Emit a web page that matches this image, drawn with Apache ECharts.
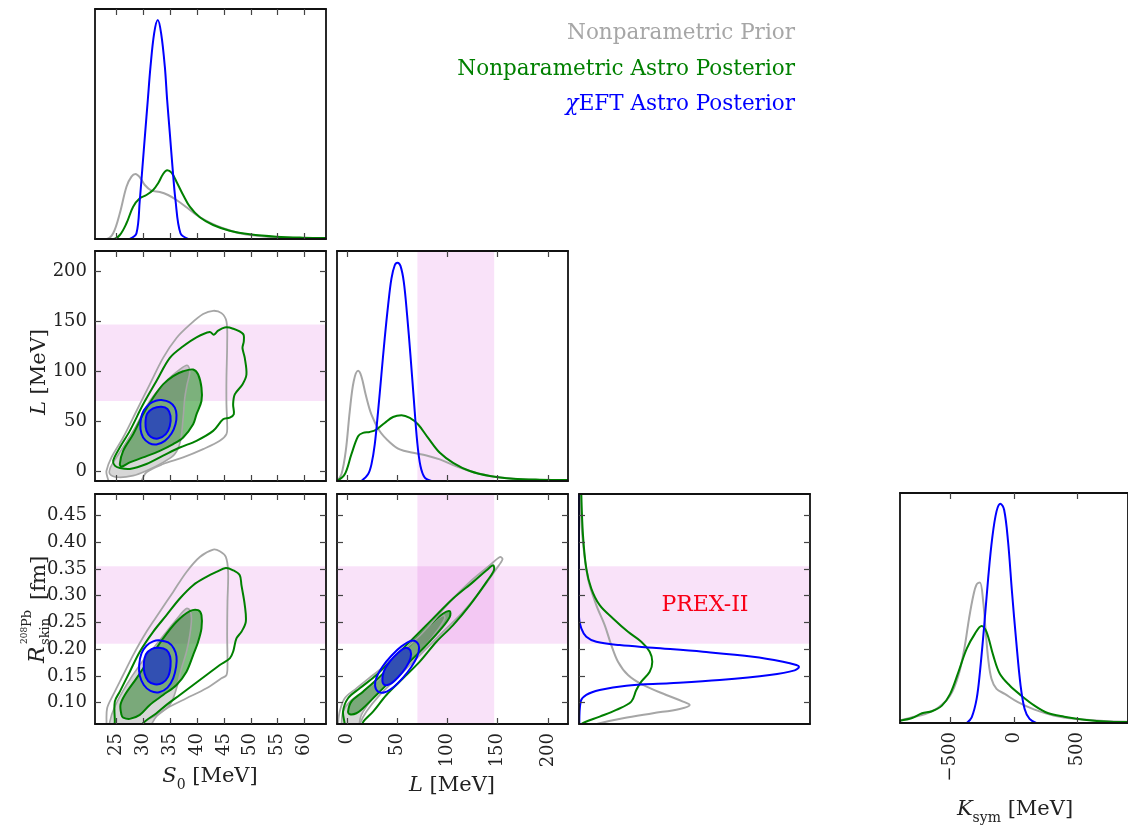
<!DOCTYPE html>
<html><head><meta charset="utf-8">
<script src="https://cdn.jsdelivr.net/npm/echarts@6/dist/echarts.min.js"></script>
<style>html,body{margin:0;padding:0;background:#fff}#c{width:1128px;height:825px}</style>
</head><body><div id="c"></div>
<script>
// ---------- axis ranges & ticks ----------
const S0_RANGE = [21, 64];
const L_RANGE = [-10, 220];
const R_RANGE = [0.06, 0.49];
const K_RANGE = [-900, 900];
const S0_TICKS = [25, 30, 35, 40, 45, 50, 55, 60];
const L_TICKS = [0, 50, 100, 150, 200];
const R_TICKS = [0.10, 0.15, 0.20, 0.25, 0.30, 0.35, 0.40, 0.45];
const K_TICKS = [-500, 0, 500];
const DENS_A = [0, 230], DENS_C = [0, 231], DENS_F = [0, 231], DENS_G = [0, 229];
// PREX-II bands
const PREX_L = [70, 146.5];
const PREX_R = [0.21, 0.355];

// ---------- legend ----------
const LEGEND = ['Nonparametric Prior', 'Nonparametric Astro Posterior', '{i|χ}EFT Astro Posterior'];

// ---------- 1D marginals ----------
const S0_PRIOR = [[21,0],[23.14,0],[24.38,5.7],[25.62,25.7],[26.86,52.3],[27.79,62.3],[28.54,65],[29.34,61.7],[30.27,54],[31.51,48.3],[33.06,47],[34.6,44],[36.17,39],[38.03,31.7],[39.89,24],[42.37,16.3],[44.85,10.7],[47.95,5.7],[51.05,3.3],[54.78,1.7],[59.74,1],[64,0.7]];
const S0_ASTRO = [[21,0],[24.38,0],[25.62,4],[26.86,15.7],[28.1,32.3],[29.34,40.7],[30.58,44],[31.82,49],[32.75,55.7],[33.68,65],[34.43,68.7],[35.24,66.3],[36.17,57.3],[37.41,44],[38.65,32.3],[40.51,21.7],[42.99,14],[46.09,8.3],[49.81,4.7],[54.78,2.3],[59.74,1.3],[64,1]];
const S0_CHIEFT = [[27.48,0],[28.72,5.7],[29.34,39],[29.84,72.3],[30.33,105.7],[30.83,139],[31.33,172.3],[32.01,205.7],[32.69,219],[33.31,205.7],[34.0,172.3],[34.43,139],[34.93,105.7],[35.42,72.3],[35.98,39],[36.91,5.7],[38.34,0]];

const L_PRIOR = [[-10,0],[-5.6,6.7],[-1.3,30],[2.7,70],[6.6,100],[11,110.7],[14.3,105],[18.6,86.7],[24.3,66.7],[32.6,50],[42.5,39],[52.5,31.7],[65.8,28.3],[79.1,25.7],[92.4,21.7],[105.6,16],[122.3,10],[142.2,5],[165.4,2.3],[192,1],[220,0.7]];
const L_ASTRO = [[-10,0],[-2.3,6.7],[4.3,26.7],[11,45],[15.9,48.3],[22.6,49.3],[29.2,51.7],[37.5,58.3],[45.8,64.3],[54.2,66],[62.5,63.3],[70.8,56.7],[80.7,43.3],[92.4,28.3],[105.6,18.3],[122.3,10],[142.2,5],[165.4,2.3],[192,1.3],[220,1]];
const L_CHIEFT = [[14.3,0],[20.9,6.7],[24.3,16.7],[27.6,36.7],[30.9,70],[34.2,106.7],[37.5,143.3],[40.9,176.7],[44.2,203.3],[47.5,216.7],[50.2,219.3],[53.2,216],[56.5,200],[59.8,166.7],[63.1,126.7],[66.4,83.3],[69.8,40],[73.1,15],[77.4,3.3],[84.1,0]];

// [density, R]
const R_PRIOR = [[1.3,0.49],[3.3,0.4127],[9,0.3319],[17.3,0.2821],[25.7,0.2449],[32.3,0.2076],[39,0.1765],[49,0.1516],[64,0.133],[87.3,0.1143],[104,0.1019],[110.7,0.0957],[100.7,0.0882],[74,0.0801],[44,0.0708],[20.7,0.0615],[10,0.055]];
const R_ASTRO = [[2.3,0.49],[4,0.4127],[7.3,0.3505],[12.3,0.3132],[20.7,0.2821],[34,0.2573],[49,0.2324],[62.3,0.2138],[70.7,0.1951],[73.3,0.1765],[70.7,0.1578],[62.3,0.1392],[57.3,0.1236],[52.3,0.1019],[37.3,0.0863],[20.7,0.0739],[5.7,0.0633],[2.3,0.06]];
const R_CHIEFT = [[0,0.49],[0,0.26],[2.3,0.2386],[7.3,0.2231],[17.3,0.2138],[40.7,0.2076],[74,0.2026],[124,0.1951],[174,0.1858],[204,0.1765],[217.3,0.1703],[220,0.1671],[215.7,0.1603],[190.7,0.1516],[140.7,0.1423],[90.7,0.1361],[47.3,0.1317],[20.7,0.1236],[7.3,0.1143],[1.7,0.1019],[0.3,0.0615]];

const K_PRIOR = [[-903,2.3],[-804,5.7],[-700,9],[-595,15.7],[-504,27.3],[-439,47.3],[-392,74],[-355,104],[-321,127],[-295,138],[-269,140],[-243,120.7],[-225,94],[-204,64],[-178,44],[-138,34],[-73,29],[31,20.7],[162,13.3],[319,7.3],[501,4],[710,2],[900,1.3]];
const K_ASTRO = [[-903,2.3],[-804,5],[-726,9.7],[-648,11.7],[-569,17.3],[-504,29],[-439,50.7],[-373,74],[-308,89],[-256,96.7],[-217,90.7],[-164,67.3],[-112,49],[-34,37.3],[57,27.3],[162,17.3],[266,10],[397,6.3],[554,3.3],[762,1.3],[900,1]];
const K_CHIEFT = [[-373,0],[-334,5.7],[-295,24],[-269,50.7],[-235,97.3],[-204,144],[-172,184],[-138,210.7],[-107,218.3],[-78,212.3],[-47,180.7],[-16,130.7],[18,80.7],[52,37.3],[84,14],[123,4],[175,0]];

// ---------- 2D contours: S0 vs L ----------
const B_PRIOR_OUTER = [[23.14,0.3],[24.07,13.6],[26.24,33.5],[28.72,60],[31.2,86.6],[33.68,113.1],[36.17,133],[38.65,146.3],[41.13,156.9],[42.99,160.2],[44.54,157.9],[45.47,149.6],[45.6,126.4],[45.47,93.2],[45.47,66.7],[45.6,46.8],[45.47,36.8],[44.23,30.2],[41.13,21.9],[37.41,13.6],[33.68,7],[30.58,-1.3],[29.65,-10.3],[29.4,-16],[24.2,-16],[23.3,-6]];
const B_ASTRO_OUTER = [[24.69,5.3],[24.38,10.3],[25.62,23.5],[27.48,40.1],[29.96,66.7],[32.44,89.9],[34.93,113.1],[37.41,124.7],[39.89,133.7],[42.37,139],[43.11,136.3],[43.92,140.3],[45.16,143.6],[46.71,142.3],[48.57,137],[48.7,129.7],[48.45,123.1],[48.88,113.1],[49.19,96.5],[48.45,86.6],[47.02,76.6],[46.71,66.7],[46.84,56.7],[46.09,53.4],[44.85,51.7],[42.99,40.1],[39.89,30.2],[36.79,23.5],[33.68,15.3],[30.58,7],[27.48,2],[25.62,3]];
const B_PRIOR_INNER = [[23.76,-3],[23.88,3.6],[25,13.6],[28.1,40.1],[31.2,70],[34.31,89.9],[36.79,101.5],[38.15,105.8],[38.65,99.7],[38.15,86.6],[37.72,73.3],[37.41,53.4],[36.91,30.2],[35.86,16.9],[33.68,8.6],[30.58,0.3],[28.1,-4.6],[25.31,-6.3]];
const B_ASTRO_INNER = [[25.62,7],[26.24,20.2],[28.1,36.8],[29.96,56.7],[31.82,73.3],[33.68,86.6],[35.55,94.9],[37.41,99.7],[39.27,101.5],[40.2,96.5],[40.82,83.3],[40.82,70],[39.89,56.7],[39.27,46.8],[37.41,33.5],[35.55,26.9],[33.06,20.2],[29.96,13.6],[27.48,8.6],[25.93,4.3]];
const B_CHIEFT_OUTER = [[33.37,70.98],[34.93,68.66],[35.86,63.35],[36.17,56.05],[35.98,46.77],[35.24,37.48],[34.0,30.18],[32.44,26.53],[31.08,27.86],[29.96,33.5],[29.47,41.79],[29.53,51.74],[30.09,60.7],[31.2,67.33],[32.32,70.32]];
const B_CHIEFT_INNER = [[33.37,64.34],[34.49,62.02],[35.05,55.06],[34.93,45.11],[34.18,36.82],[32.75,32.5],[31.39,34.16],[30.58,40.13],[30.4,48.42],[30.71,57.38],[31.82,62.69]];

// ---------- 2D contours: S0 vs R ----------
const D_PRIOR_OUTER = [[23.14,0.0459],[23.14,0.0596],[23.26,0.0894],[24.38,0.1143],[26.24,0.1516],[28.1,0.1889],[30.58,0.2324],[33.06,0.2697],[35.55,0.307],[38.03,0.3443],[40.51,0.3723],[43.0,0.386],[44.23,0.3829],[45.35,0.3723],[45.78,0.3443],[45.66,0.2884],[45.6,0.2262],[45.66,0.1703],[45.47,0.1516],[44.54,0.1454],[41.75,0.1267],[38.03,0.1081],[34.93,0.0926],[32.44,0.077],[29.96,0.0615],[29.65,0.0459]];
const D_ASTRO_OUTER = [[24.69,0.0459],[24.69,0.0646],[24.69,0.1019],[25.62,0.1205],[27.48,0.1578],[29.34,0.1951],[31.82,0.2324],[34.31,0.2635],[36.79,0.2946],[39.27,0.3195],[41.75,0.335],[43.61,0.3443],[45.35,0.3518],[46.71,0.3474],[47.95,0.3381],[48.26,0.3195],[48.88,0.2822],[49.07,0.2511],[48.26,0.2324],[47.33,0.22],[46.71,0.1951],[46.09,0.1827],[44.23,0.1703],[41.75,0.1516],[39.27,0.133],[36.79,0.1143],[34.31,0.0957],[32.44,0.0801],[29.96,0.0615],[29.65,0.0459]];
const D_PRIOR_INNER = [[23.76,0.0459],[23.76,0.0646],[24.69,0.0926],[26.86,0.133],[29.34,0.1703],[31.82,0.2013],[34.31,0.2324],[36.79,0.2635],[38.03,0.2759],[38.65,0.2728],[38.96,0.2573],[38.65,0.2262],[38.03,0.1951],[37.1,0.164],[36.17,0.1267],[34.93,0.0957],[32.44,0.0739],[30.27,0.0459]];
const D_ASTRO_INNER = [[25.93,0.077],[25.74,0.0957],[26.55,0.1143],[28.72,0.1454],[31.2,0.1827],[33.68,0.22],[36.17,0.2511],[38.65,0.271],[40.2,0.2728],[40.82,0.2635],[40.82,0.2386],[40.2,0.2138],[39.27,0.1889],[38.03,0.1578],[36.17,0.133],[33.68,0.1143],[31.2,0.0957],[29.34,0.077],[27.48,0.0696],[26.24,0.072]];
const D_CHIEFT_OUTER = [[33.06,0.2163],[34.62,0.2125],[35.67,0.2013],[36.17,0.1858],[36.1,0.1671],[35.55,0.1454],[34.49,0.128],[32.94,0.1193],[31.33,0.1218],[30.09,0.133],[29.34,0.1504],[29.22,0.1703],[29.65,0.192],[30.58,0.2063],[31.82,0.2144]];
const D_CHIEFT_INNER = [[32.94,0.2026],[34.31,0.1982],[34.99,0.1858],[35.05,0.1671],[34.62,0.1485],[33.56,0.1367],[32.13,0.1342],[30.89,0.1404],[30.21,0.1547],[30.09,0.1734],[30.46,0.1901],[31.51,0.2001]];

// ---------- 2D contours: L vs R ----------
const E_PRIOR_OUTER = [[-9,0.0459],[-9,0.0596],[-7.3,0.0832],[-2.3,0.1081],[9.3,0.1267],[25.9,0.1516],[42.5,0.1765],[62.5,0.2076],[82.4,0.2449],[102.3,0.2884],[122.3,0.3257],[142.2,0.3567],[152.2,0.3723],[154.8,0.3679],[148.8,0.3505],[132.2,0.307],[115.6,0.2697],[99,0.2386],[82.4,0.2076],[65.8,0.1765],[49.2,0.1454],[32.6,0.1143],[19.3,0.0832],[12.6,0.0596],[11,0.0459]];
const E_ASTRO_OUTER = [[-2.3,0.0459],[-2.3,0.0596],[-4,0.0832],[1,0.1081],[12.6,0.1267],[29.2,0.1516],[45.8,0.1827],[65.8,0.22],[85.7,0.2573],[105.6,0.2946],[125.6,0.3257],[138.9,0.3474],[145.5,0.3567],[146.2,0.3474],[138.9,0.3257],[122.3,0.2822],[105.6,0.2449],[89,0.2138],[72.4,0.1765],[55.8,0.1454],[39.2,0.1143],[25.9,0.0832],[15.9,0.0633],[14,0.0459]];
const E_PRIOR_INNER = [[-5.6,0.0459],[-5.6,0.0596],[-4,0.0832],[2.7,0.1019],[15.9,0.1205],[32.6,0.1454],[49.2,0.1765],[65.8,0.2138],[82.4,0.2449],[95.7,0.2635],[97.3,0.2573],[89,0.2324],[75.7,0.2013],[59.1,0.1703],[42.5,0.1392],[25.9,0.1081],[14.3,0.077],[9.3,0.0459]];
const E_ASTRO_INNER = [[1,0.0832],[4.3,0.1019],[15.9,0.1205],[32.6,0.1485],[49.2,0.1796],[65.8,0.2138],[82.4,0.2449],[95.7,0.2666],[102.3,0.271],[102.3,0.2604],[94,0.2386],[79.1,0.2076],[62.5,0.1765],[45.8,0.1454],[29.2,0.1143],[15.9,0.0894],[9.3,0.0801],[2.7,0.0783]];
const E_CHIEFT_OUTER = [[64.12,0.2156],[69.77,0.2125],[71.76,0.2026],[69.77,0.1858],[64.12,0.1671],[55.81,0.1466],[46.51,0.1292],[37.54,0.1193],[30.9,0.1205],[27.91,0.1311],[29.24,0.1466],[35.22,0.1671],[44.19,0.1877],[54.15,0.2051]];
const E_CHIEFT_INNER = [[58.47,0.2026],[63.12,0.197],[63.12,0.1827],[58.47,0.1653],[50.83,0.1473],[43.19,0.1348],[37.54,0.133],[35.22,0.1404],[36.54,0.1578],[42.52,0.1765],[50.83,0.1933]];

// ---------- styles ----------
const FONT = 'DejaVu Serif';
const GRAY = '#a6a6a6', GREEN = '#008000', BLUE = '#0000ff';
const BAND = 'rgba(200,0,200,0.115)';
const GREEN_FILL = 'rgba(0,128,0,0.5)';
const GRAY_FILL = 'rgba(110,110,110,0.28)';
const BLUE_FILL = 'rgb(50,80,178)';
const TXT = '#222';

const grids = [
  {left: 95, top: 9, width: 231, height: 230},
  {left: 95, top: 251, width: 231, height: 230},
  {left: 337, top: 251, width: 231, height: 230},
  {left: 95, top: 494, width: 231, height: 230},
  {left: 337, top: 494, width: 231, height: 230},
  {left: 579, top: 494, width: 231, height: 230},
  {left: 900, top: 493, width: 231, height: 230}
];

const xAxes = [], yAxes = [];
function mkAxis(dim, gi, range, ticks, pos, showLabel, fmt) {
  const a = {type: 'value', gridIndex: gi, position: pos, min: range[0], max: range[1], z: 5,
    splitLine: {show: false}, splitArea: {show: false},
    axisLine: {show: true, onZero: false, lineStyle: {color: '#111', width: 1.8}},
    axisTick: {show: !!ticks, inside: true, length: 6, lineStyle: {color: '#444', width: 1.2}},
    axisLabel: {show: false}};
  if (ticks) a.axisTick.customValues = ticks;
  if (showLabel) a.axisLabel = {show: true, customValues: ticks, fontFamily: FONT, fontSize: 18, color: TXT,
    margin: dim === 'x' ? 9 : 8, rotate: dim === 'x' ? 90 : 0, formatter: fmt, hideOverlap: false};
  return a;
}
function addAxes(gi, xr, xt, xl, xf, yr, yt, yl, yf) {
  xAxes.push(mkAxis('x', gi, xr, xt, 'bottom', xl, xf));
  const xi = xAxes.length - 1;
  xAxes.push(mkAxis('x', gi, xr, xt, 'top', false));
  yAxes.push(mkAxis('y', gi, yr, yt, 'left', yl, yf));
  const yi = yAxes.length - 1;
  yAxes.push(mkAxis('y', gi, yr, yt, 'right', false));
  return [xi, yi];
}
const fmtInt = v => String(Math.round(v));
const fmtR = v => v.toFixed(2);
const fmtK = v => (v < 0 ? '\u2212' + Math.abs(v) : String(v));

const A = addAxes(0, S0_RANGE, S0_TICKS, false, null, DENS_A, null, false, null);
const B = addAxes(1, S0_RANGE, S0_TICKS, false, null, L_RANGE, L_TICKS, true, fmtInt);
const C = addAxes(2, L_RANGE, L_TICKS, false, null, DENS_C, null, false, null);
const D = addAxes(3, S0_RANGE, S0_TICKS, true, fmtInt, R_RANGE, R_TICKS, true, fmtR);
const E = addAxes(4, L_RANGE, L_TICKS, true, fmtInt, R_RANGE, R_TICKS, false, null);
const F = addAxes(5, DENS_F, null, false, null, R_RANGE, R_TICKS, false, null);
const G = addAxes(6, K_RANGE, K_TICKS, true, fmtK, DENS_G, null, false, null);

const series = [];
function band(ax, x0, x1, y0, y1) {
  series.push({type: 'custom', xAxisIndex: ax[0], yAxisIndex: ax[1], clip: true, silent: true, z: 1,
    data: [[x0, y0, x1, y1]], encode: {x: [0, 2], y: [1, 3]},
    renderItem: (p, api) => {
      const a = api.coord([api.value(0), api.value(3)]);
      const b = api.coord([api.value(2), api.value(1)]);
      return {type: 'rect', shape: {x: a[0], y: a[1], width: b[0] - a[0], height: b[1] - a[1]}, style: {fill: BAND}};
    }});
}
function poly(ax, pts, fill, stroke, lw) {
  series.push({type: 'custom', xAxisIndex: ax[0], yAxisIndex: ax[1], clip: true, silent: true, z: 2,
    data: [[pts[0][0], pts[0][1]]], encode: {x: 0, y: 1},
    renderItem: (p, api) => ({type: 'polygon',
      shape: {points: pts.map(q => api.coord(q)), smooth: 0.33},
      style: {fill: fill || 'transparent', stroke: stroke || 'transparent', lineWidth: lw || 0}})
  });
}
function curve(ax, data, color, lw) {
  series.push({type: 'line', xAxisIndex: ax[0], yAxisIndex: ax[1], data: data, showSymbol: false, symbol: 'none',
    smooth: 0.35, silent: true, z: 3, lineStyle: {color: color, width: lw || 2}});
}
function corner(ax, po, ao, pi, ai, co, ci) {
  poly(ax, ai, GREEN_FILL, null, 0);
  poly(ax, pi, GRAY_FILL, GRAY, 1.6);
  poly(ax, ai, null, GREEN, 2);
  poly(ax, po, null, GRAY, 1.8);
  poly(ax, ao, null, GREEN, 2);
  poly(ax, co, null, BLUE, 2);
  poly(ax, ci, BLUE_FILL, BLUE, 2);
}

// Panel A
curve(A, S0_PRIOR, GRAY, 2); curve(A, S0_ASTRO, GREEN, 2); curve(A, S0_CHIEFT, BLUE, 2);
// Panel B
band(B, S0_RANGE[0], S0_RANGE[1], PREX_L[0], PREX_L[1]);
corner(B, B_PRIOR_OUTER, B_ASTRO_OUTER, B_PRIOR_INNER, B_ASTRO_INNER, B_CHIEFT_OUTER, B_CHIEFT_INNER);
// Panel C
band(C, PREX_L[0], PREX_L[1], DENS_C[0], DENS_C[1]);
curve(C, L_PRIOR, GRAY, 2); curve(C, L_ASTRO, GREEN, 2); curve(C, L_CHIEFT, BLUE, 2);
// Panel D
band(D, S0_RANGE[0], S0_RANGE[1], PREX_R[0], PREX_R[1]);
corner(D, D_PRIOR_OUTER, D_ASTRO_OUTER, D_PRIOR_INNER, D_ASTRO_INNER, D_CHIEFT_OUTER, D_CHIEFT_INNER);
// Panel E
band(E, PREX_L[0], PREX_L[1], R_RANGE[0], R_RANGE[1]);
band(E, L_RANGE[0], L_RANGE[1], PREX_R[0], PREX_R[1]);
corner(E, E_PRIOR_OUTER, E_ASTRO_OUTER, E_PRIOR_INNER, E_ASTRO_INNER, E_CHIEFT_OUTER, E_CHIEFT_INNER);
// Panel F
band(F, DENS_F[0], DENS_F[1], PREX_R[0], PREX_R[1]);
curve(F, R_PRIOR, GRAY, 2); curve(F, R_ASTRO, GREEN, 2); curve(F, R_CHIEFT, BLUE, 2);
// Panel G
curve(G, K_PRIOR, GRAY, 2); curve(G, K_ASTRO, GREEN, 2); curve(G, K_CHIEFT, BLUE, 2);

// ---------- texts ----------
const RICH = {
  i: {fontFamily: FONT, fontSize: 21, fontStyle: 'italic', lineHeight: 30, fill: TXT},
  n: {fontFamily: FONT, fontSize: 21, lineHeight: 30, fill: TXT},
  sb: {fontFamily: FONT, fontSize: 14, lineHeight: 15, verticalAlign: 'bottom', fill: TXT}
};
function title(text, x, y, rot) {
  return {type: 'text', x: x, y: y, rotation: rot || 0, silent: true,
    style: {text: text, align: 'center', verticalAlign: 'middle', fill: TXT, font: '21px "DejaVu Serif"', rich: RICH}};
}
function legendText(text, y, color) {
  return {type: 'text', x: 795, y: y, silent: true,
    style: {text: text, align: 'right', verticalAlign: 'middle', fill: color, font: '21.5px "DejaVu Serif"',
      rich: {i: {fontFamily: FONT, fontSize: 21.5, fontStyle: 'italic', fill: color}}}};
}
const graphic = [
  legendText(LEGEND[0], 33, GRAY),
  legendText(LEGEND[1], 69, GREEN),
  legendText(LEGEND[2], 104, BLUE),
  title('{i|S}{sb|0}{n| [MeV]}', 210, 777, 0),
  title('{i|L}{n| [MeV]}', 452, 786, 0),
  title('{i|K}{sb|sym}{n| [MeV]}', 1015, 810, 0),
  title('{i|L}{n| [MeV]}', 40, 372, Math.PI / 2),
  {type: 'group', x: 38, y: 663, rotation: Math.PI / 2, silent: true, children: [
    {type: 'text', x: 0, y: 0, style: {text: 'R', font: 'italic 22px "DejaVu Serif"', fill: TXT, align: 'left', verticalAlign: 'middle'}},
    {type: 'text', x: 19, y: -13, style: {text: '208', font: '9px "DejaVu Serif"', fill: TXT, align: 'left', verticalAlign: 'middle'}},
    {type: 'text', x: 36, y: -10, style: {text: 'Pb', font: '13px "DejaVu Serif"', fill: TXT, align: 'left', verticalAlign: 'middle'}},
    {type: 'text', x: 18, y: 8, style: {text: 'skin', font: '13px "DejaVu Serif"', fill: TXT, align: 'left', verticalAlign: 'middle'}},
    {type: 'text', x: 63, y: 2, style: {text: '[fm]', font: '21px "DejaVu Serif"', fill: TXT, align: 'left', verticalAlign: 'middle'}}
  ]},
  {type: 'text', x: 705, y: 605, silent: true,
    style: {text: 'PREX-II', align: 'center', verticalAlign: 'middle', fill: '#ff0000', font: '22px "DejaVu Serif"'}}
];

const chart = echarts.init(document.getElementById('c'), null, {renderer: 'canvas'});
chart.setOption({animation: false, backgroundColor: '#ffffff', grid: grids, xAxis: xAxes, yAxis: yAxes, series: series, graphic: graphic});
</script>
</body></html>
